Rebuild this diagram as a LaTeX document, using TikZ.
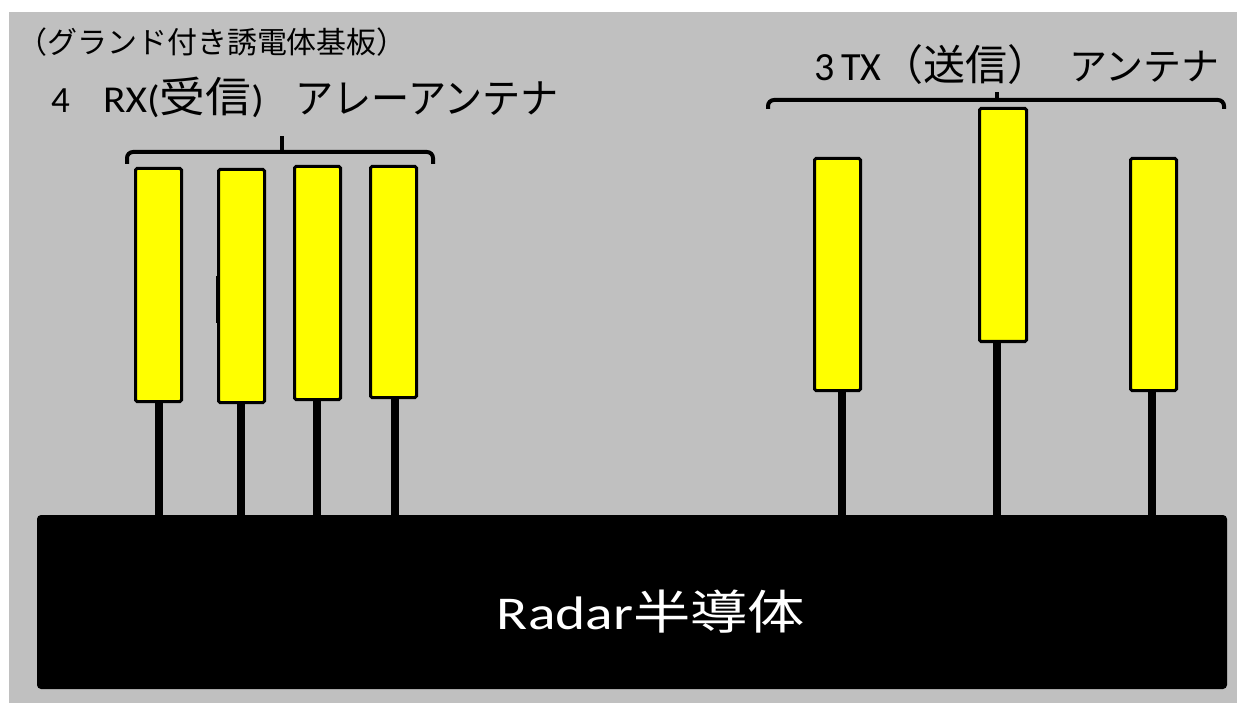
\documentclass[tikz,border=0pt]{standalone}
\usepackage{graphicx}
\usepackage{fontspec}
\setmainfont{Carlito}
\newfontfamily\jp{Noto Sans CJK JP}
\definecolor{bggray}{RGB}{192,192,192}
\definecolor{antyellow}{RGB}{255,255,0}
\newcommand\fs[1]{\fontsize{#1}{#1}\selectfont}
\begin{document}
\begin{tikzpicture}[x=1pt,y=-1pt,
  ant/.style={draw=black, fill=antyellow, line width=3pt, rounded corners=1.5pt, inner sep=0pt, minimum width=46pt},
  stem/.style={line width=8pt},
  brace/.style={line width=4pt, rounded corners=6pt},
  lab/.style={inner sep=0pt, anchor=base west, text=black},
  chipbox/.style={fill=black, rounded corners=4pt, inner sep=0pt}]
\useasboundingbox (0,0) rectangle (1237,703);
\fill[white] (0,0) rectangle (1237,703);
\fill[bggray] (9,12) rectangle (1237,703);

% chip
\node[chipbox, minimum width=1190pt, minimum height=174pt] (chip) at (632,602) {};
\node[inner sep=0pt, anchor=base, text=white, font=\fs{47pt}] (chiplabel) at (651,629) {\scalebox{1.22}[1]{Radar{\jp\fs{47pt}半導体}}};

% RX antennas
\node[ant, minimum height=233pt] (rx1) at (158.5,285) {};
\node[ant, minimum height=233pt] (rx2) at (241.5,286) {};
\node[ant, minimum height=233pt] (rx3) at (317.5,283) {};
\node[ant, minimum height=231pt] (rx4) at (393.5,282) {};
% TX antennas
\node[ant, minimum height=232pt] (tx1) at (837.5,274.5) {};
\node[ant, minimum height=233pt, minimum width=47pt] (tx2) at (1003,225) {};
\node[ant, minimum height=232pt] (tx3) at (1153.5,274.5) {};

% stems
\coordinate (r1s) at (159,400);
\coordinate (r2s) at (241,402);
\coordinate (r3s) at (317,399);
\coordinate (r4s) at (394.5,397);
\coordinate (t1s) at (842,390);
\coordinate (t2s) at (997,341);
\coordinate (t3s) at (1152,390);
\foreach \s in {r1s,r2s,r3s,r4s,t1s,t2s,t3s}
  \draw[stem] (\s) -- (\s |- chip.north);

% small mark
\draw[line width=2pt] (216.5,276) -- (216.5,323);

% braces
\draw[brace] (127,164) -- (127,152) -- (433,152) -- (433,164);
\draw[line width=4pt] (282,153) -- (282,136);
\draw[brace] (768,109) -- (768,100) -- (1224,100) -- (1224,109);
\draw[line width=4pt] (997,101) -- (997,92);

% labels
\node[lab, anchor=base, font=\jp\fs{30pt}] (sub) at (212,54) {（グランド付き誘電体基板）};
\node[lab, font=\fs{37pt}] (rxnum) at (51,113) {4};
\node[lab, font=\fs{38pt}] (rxname) at (103,113) {\scalebox{1.09}[1]{RX({\jp\fs{42pt}受信})}};
\node[lab, font=\jp\fs{41pt}] (rxant) at (295,114) {\scalebox{0.93}[1]{アレーアンテナ}};
\node[lab, font=\fs{40pt}] (txnum) at (814,81) {3};
\node[lab, font=\fs{40pt}] (txname) at (841,81) {TX{\jp\fs{42pt}（送信）}};
\node[lab, font=\jp\fs{38pt}] (txant) at (1069,81) {アンテナ};
\end{tikzpicture}
\end{document}
